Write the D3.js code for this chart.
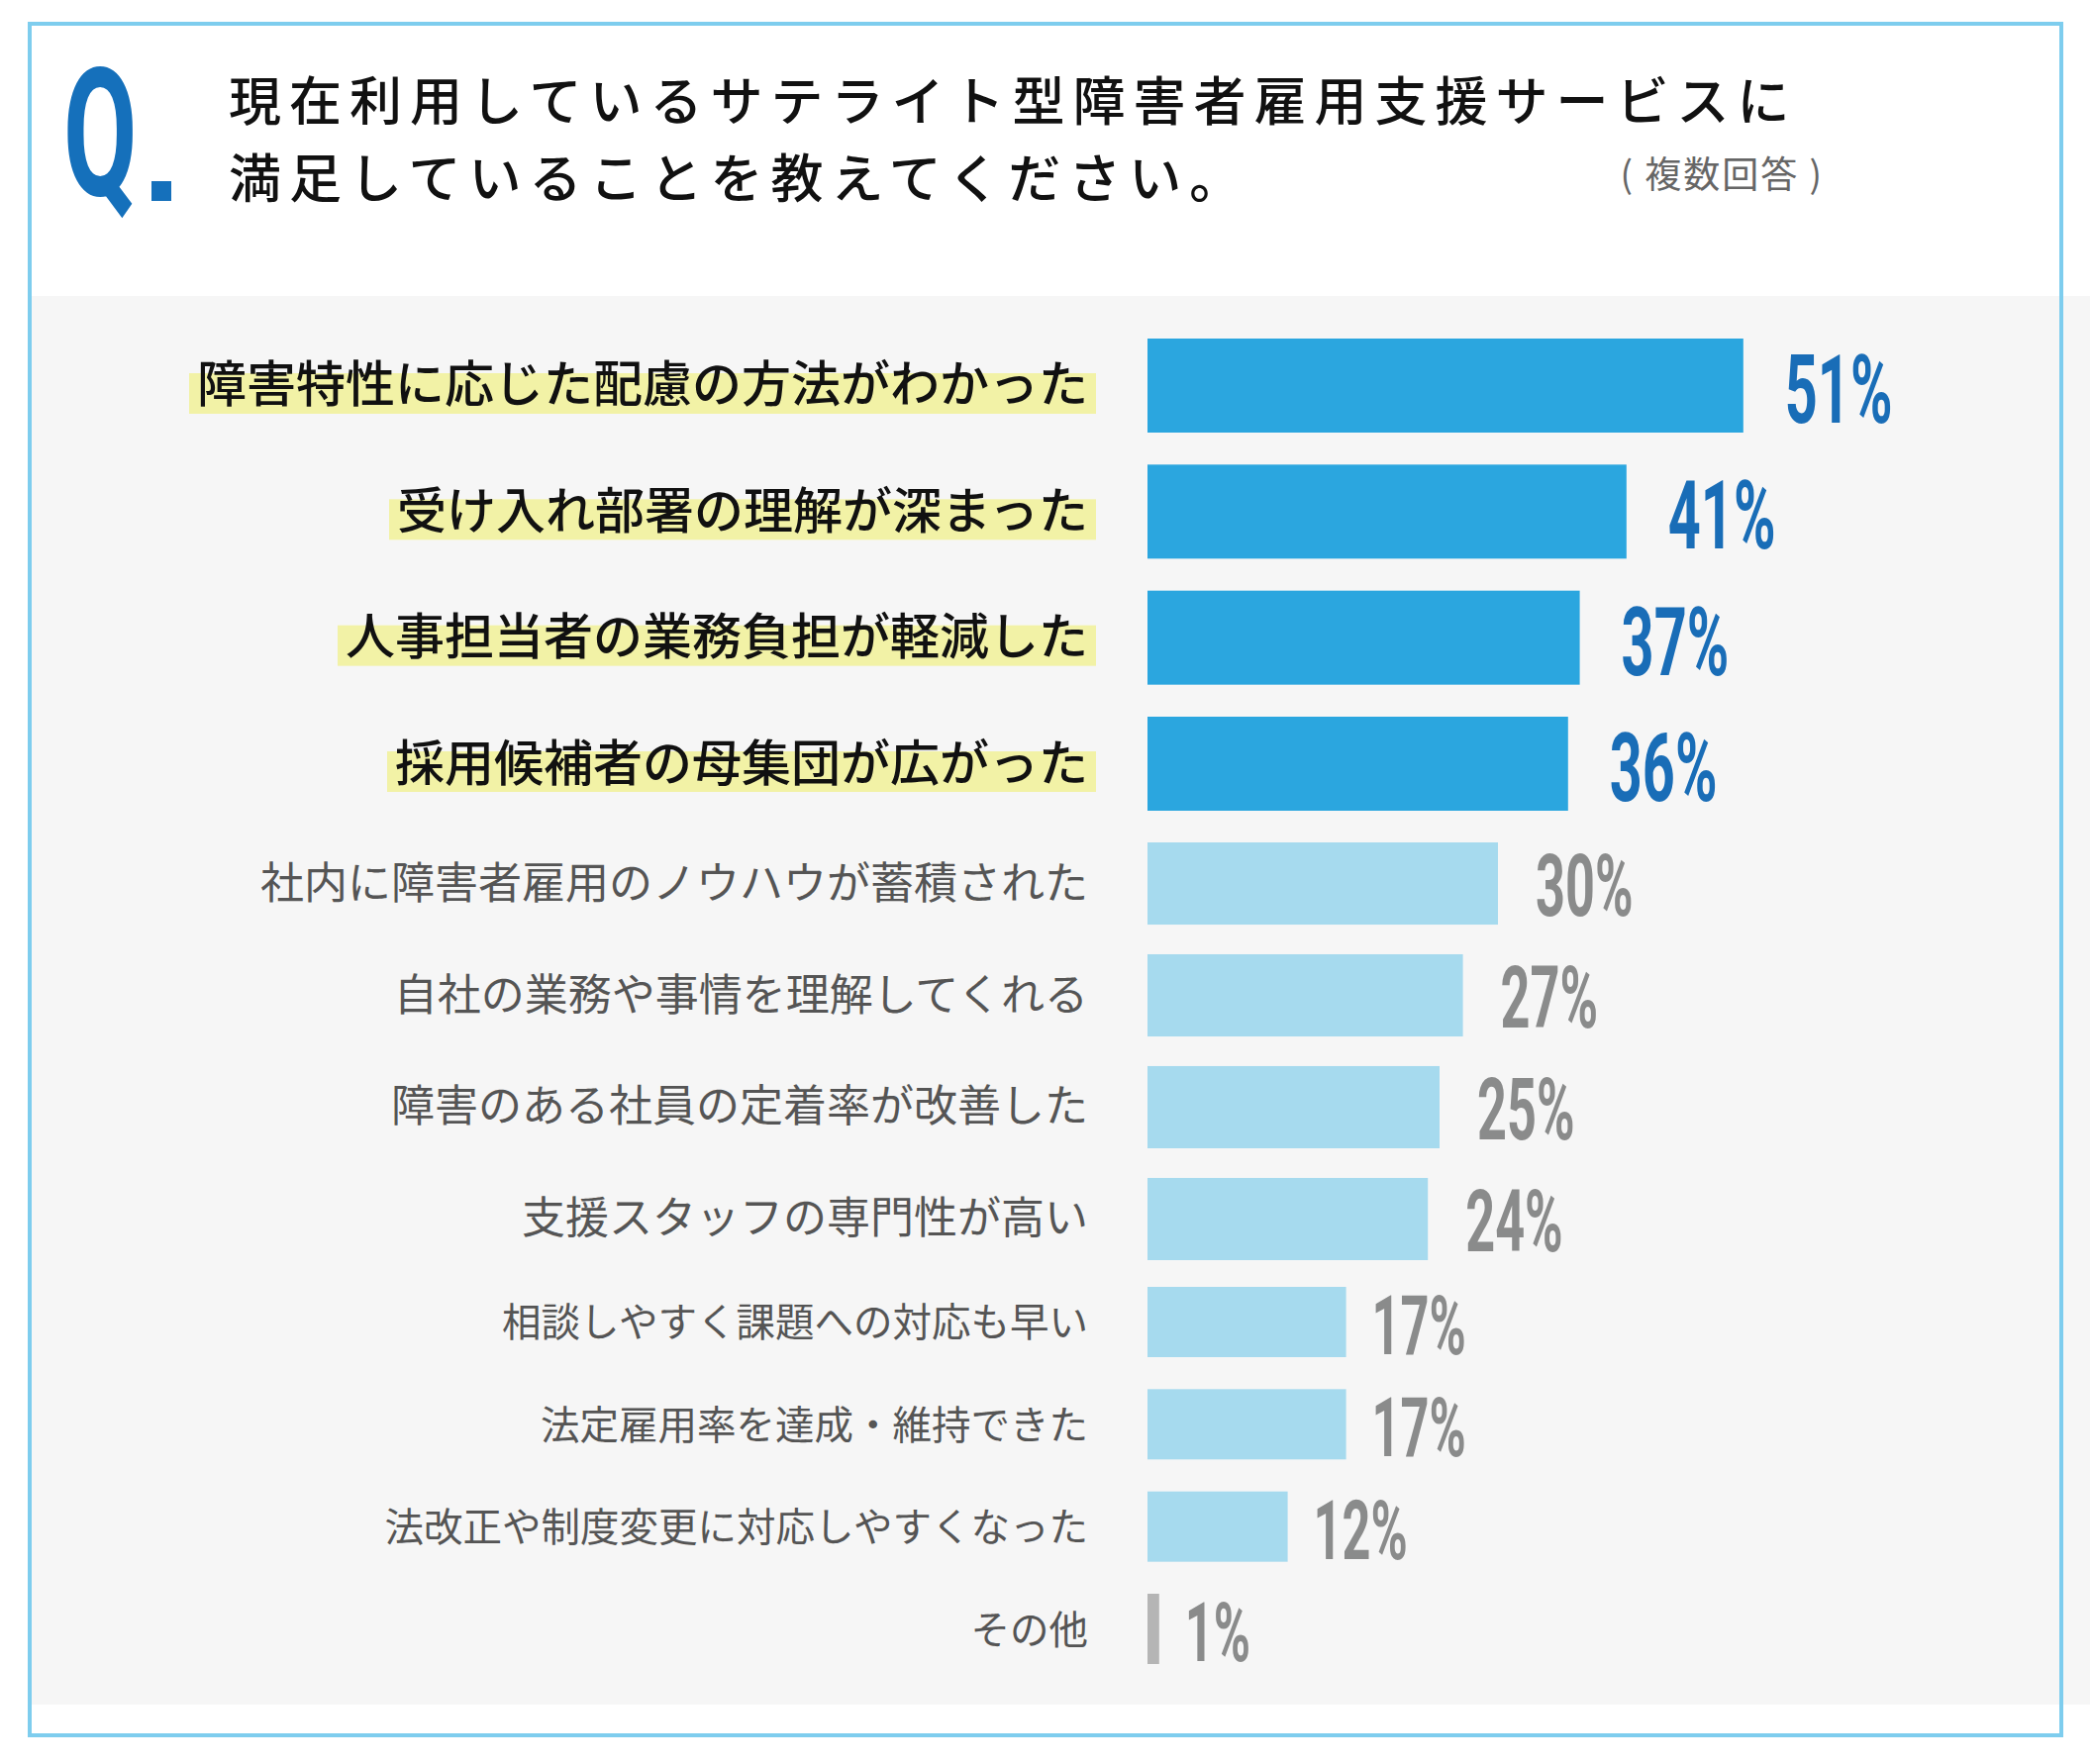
<!DOCTYPE html>
<html lang="ja">
<head>
<meta charset="utf-8">
<script src="https://cdn.jsdelivr.net/npm/d3@7"></script>
<style>
  html, body { margin: 0; padding: 0; background: #ffffff; }
  svg { display: block; }
</style>
</head>
<body>
<svg id="chart" width="2114" height="1782"></svg>
<script>
// ---------------- data ----------------
const titleLines = [
  "現在利用しているサテライト型障害者雇用支援サービスに",
  "満足していることを教えてください。"
];
const noteText = "( 複数回答 )";
const qMark = "Q";

const categories = [
  "障害特性に応じた配慮の方法がわかった",
  "受け入れ部署の理解が深まった",
  "人事担当者の業務負担が軽減した",
  "採用候補者の母集団が広がった",
  "社内に障害者雇用のノウハウが蓄積された",
  "自社の業務や事情を理解してくれる",
  "障害のある社員の定着率が改善した",
  "支援スタッフの専門性が高い",
  "相談しやすく課題への対応も早い",
  "法定雇用率を達成・維持できた",
  "法改正や制度変更に対応しやすくなった",
  "その他"
];
const values = [51, 41, 37, 36, 30, 27, 25, 24, 17, 17, 12, 1];
const otherCategory = "その他";

// ---------------- layout / style ----------------
const W = 2114, H = 1782;
const svg = d3.select("#chart");
const JP = "'Noto Sans CJK JP', 'Noto Sans', sans-serif";
const NUM = "Roboto, 'Liberation Sans', sans-serif";

const tiers = [
  { range: [342, 819],  pad: 0.254, font: 50, color: "#111111", weight: 500, bar: "#2ba6df", val: "#196db7", valSize: 96, valGap: 42, valDy: 37.5, labelDy: 17, highlight: true },
  { range: [851, 1273], pad: 0.265, font: 44, color: "#555555", weight: 400, bar: "#a6daee", val: "#8a8b8b", valSize: 87, valGap: 38, valDy: 32.5, labelDy: 15, highlight: false },
  { range: [1300, 1681], pad: 0.313, font: 39.5, color: "#555555", weight: 400, bar: "#a6daee", val: "#8a8b8b", valSize: 84, valGap: 26, valDy: 32.5, labelDy: 15, highlight: false }
];
const tierOf = i => (i < 4 ? 0 : i < 8 ? 1 : 2);

const rows = categories.map((c, i) => ({ cat: c, value: values[i], tier: tierOf(i) }));

tiers.forEach((t, ti) => {
  t.scale = d3.scaleBand()
    .domain(rows.filter(r => r.tier === ti).map(r => r.cat))
    .range(t.range)
    .paddingInner(t.pad)
    .paddingOuter(0);
});

const x = d3.scaleLinear().domain([0, 100]).range([1159, 1159 + 1180]);
const labelRight = 1099;

// ---------------- background ----------------
svg.append("rect").attr("x", 0).attr("y", 0).attr("width", W).attr("height", H).attr("fill", "#ffffff");
svg.append("rect").attr("x", 32).attr("y", 299).attr("width", 2111 - 32).attr("height", 1722 - 299).attr("fill", "#f6f6f6");
svg.append("rect").attr("x", 30).attr("y", 24).attr("width", 2082 - 30).attr("height", 1753 - 24)
  .attr("fill", "none").attr("stroke", "#7ecdee").attr("stroke-width", 4);

// ---------------- header ----------------
svg.append("text")
  .attr("transform", "translate(64,197) scale(0.6,1)")
  .attr("font-family", NUM).attr("font-weight", 700).attr("font-size", 180)
  .attr("fill", "#1570bb").text(qMark);
svg.append("rect").attr("x", 153).attr("y", 183).attr("width", 20).attr("height", 20).attr("fill", "#1570bb");

svg.selectAll("text.title").data(titleLines).enter().append("text")
  .attr("class", "title")
  .attr("x", 231)
  .attr("y", (d, i) => 122 + i * 78)
  .attr("font-family", JP).attr("font-weight", 500).attr("font-size", 53)
  .attr("letter-spacing", 8)
  .attr("fill", "#111111")
  .text(d => d);

svg.append("text")
  .attr("x", 1842).attr("y", 190)
  .attr("text-anchor", "end")
  .attr("font-family", JP).attr("font-weight", 400).attr("font-size", 37)
  .attr("letter-spacing", 2)
  .attr("fill", "#666666")
  .text(noteText);

// ---------------- chart ----------------
const yTop = r => tiers[r.tier].scale(r.cat);
const bw = r => tiers[r.tier].scale.bandwidth();
const yMid = r => yTop(r) + bw(r) / 2;

const hlLayer = svg.append("g");
const labelLayer = svg.append("g");
const barLayer = svg.append("g");
const valLayer = svg.append("g");

const labels = labelLayer.selectAll("text").data(rows).enter().append("text")
  .attr("x", labelRight)
  .attr("y", r => yMid(r) + tiers[r.tier].labelDy)
  .attr("text-anchor", "end")
  .attr("font-family", JP)
  .attr("font-weight", r => tiers[r.tier].weight)
  .attr("font-size", r => tiers[r.tier].font)
  .attr("fill", r => tiers[r.tier].color)
  .text(r => r.cat);

labels.each(function (r) {
  if (!tiers[r.tier].highlight) return;
  const len = this.getComputedTextLength();
  hlLayer.append("rect")
    .attr("x", labelRight - len - 8)
    .attr("y", yMid(r) - 12.5)
    .attr("width", len + 16)
    .attr("height", 41)
    .attr("fill", "#f2f2a6");
});

barLayer.selectAll("rect").data(rows).enter().append("rect")
  .attr("x", x(0))
  .attr("y", r => yTop(r))
  .attr("width", r => x(r.value) - x(0))
  .attr("height", r => bw(r))
  .attr("fill", r => r.cat === otherCategory ? "#b5b5b5" : tiers[r.tier].bar);

valLayer.selectAll("text").data(rows).enter().append("text")
  .attr("transform", r => `translate(${x(r.value) + tiers[r.tier].valGap},${yMid(r) + tiers[r.tier].valDy}) scale(0.6,1)`)
  .attr("font-family", NUM).attr("font-weight", 700)
  .attr("font-size", r => tiers[r.tier].valSize)
  .attr("fill", r => tiers[r.tier].val)
  .text(r => r.value + "%");
</script>
</body>
</html>
